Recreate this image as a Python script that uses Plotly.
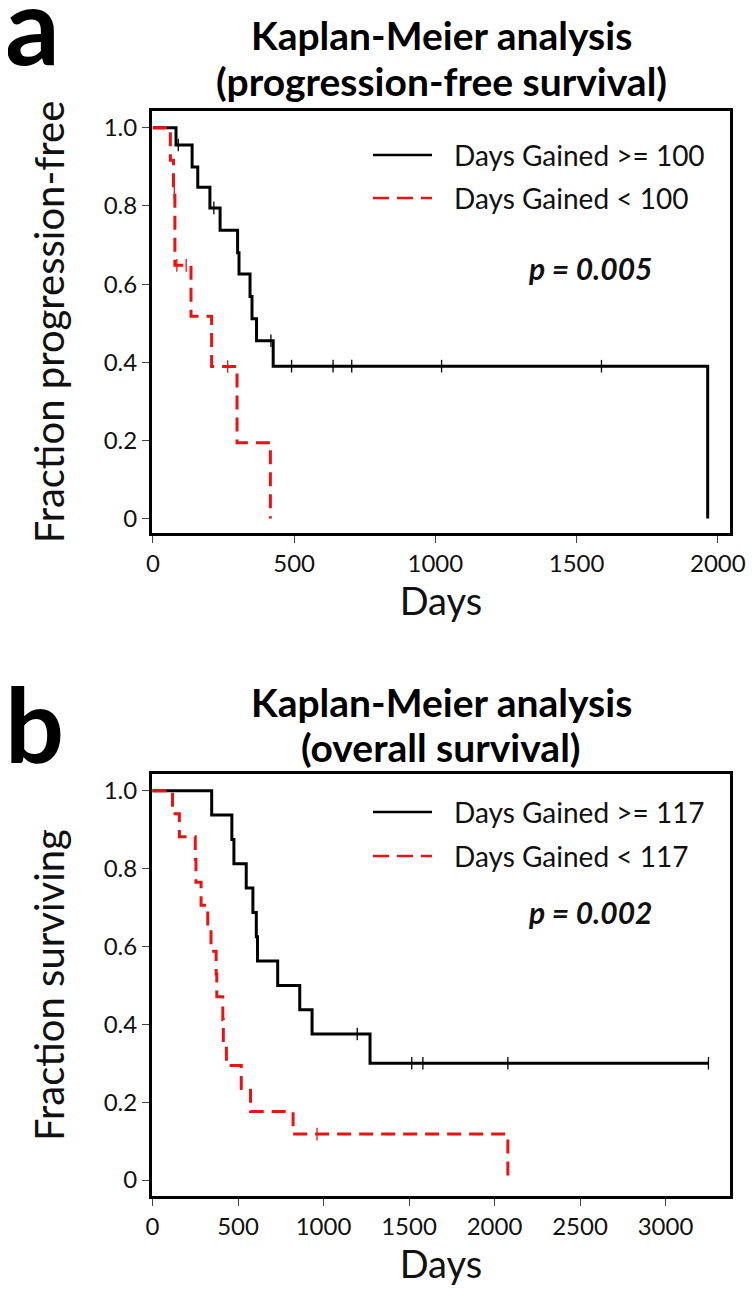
import plotly.graph_objects as go

# ---------------- data ----------------
# Panel a: progression-free survival
a_hi_event_days = [82, 139, 159, 202, 238, 300, 305, 344, 351, 367, 426, 1964]
a_hi_surv = [0.956, 0.90, 0.848, 0.795, 0.738, 0.68, 0.626, 0.568, 0.511, 0.455, 0.39, 0.0]
a_hi_censor_days = [90, 216, 418, 491, 638, 704, 1022, 1588]

a_lo_event_days = [62, 73, 78, 135, 208, 298, 416]
a_lo_surv = [0.917, 0.833, 0.648, 0.518, 0.389, 0.194, 0.0]
a_lo_censor_days = [76, 85, 118, 265]

# Panel b: overall survival
b_hi_event_days = [346, 464, 476, 548, 587, 607, 614, 732, 861, 933, 1272]
b_hi_surv = [0.9375, 0.875, 0.8125, 0.75, 0.6875, 0.625, 0.5625, 0.5, 0.4375, 0.375, 0.30]
b_hi_censor_days = [1197, 1516, 1581, 2078, 3251]

b_lo_event_days = [117, 157, 250, 254, 284, 323, 342, 372, 376, 411, 414, 432, 519, 573, 822, 2078]
b_lo_surv = [0.941, 0.882, 0.824, 0.765, 0.706, 0.647, 0.588, 0.529, 0.471, 0.412, 0.353,
             0.294, 0.235, 0.176, 0.118, 0.0]
b_lo_censor_days = [962]

y_tickvals = [0, 0.2, 0.4, 0.6, 0.8, 1.0]
y_ticktext = ["0", "0.2", "0.4", "0.6", "0.8", "1.0"]
a_x_tickvals = [0, 500, 1000, 1500, 2000]
b_x_tickvals = [0, 500, 1000, 1500, 2000, 2500, 3000]

a_labels = ["Days Gained >= 100", "Days Gained < 100"]
b_labels = ["Days Gained >= 117", "Days Gained < 117"]
a_pvalue = "p = 0.005"
b_pvalue = "p = 0.002"
a_title = ["Kaplan-Meier analysis", "(progression-free survival)"]
b_title = ["Kaplan-Meier analysis", "(overall survival)"]

# ---------------- helpers ----------------
OFF = 8                       # page body margin in the browser
W, H = 755 - OFF, 1296 - OFF  # figure size so that it fits the window
FONT = "Lato"
BLACK = "#000000"
RED = "#ee1111"
DASH = "14px,8px"


def step_xy(event_days, surv, censor_days):
    x = [0] + list(event_days)
    y = [1.0] + list(surv)
    last_c = max(censor_days) if censor_days else 0
    if last_c > x[-1]:
        x.append(last_c)
        y.append(y[-1])
    return x, y


def surv_at(t, event_days, surv):
    s = 1.0
    for d, v in zip(event_days, surv):
        if d <= t:
            s = v
    return s


def px(x):
    return (x - OFF) / W


def py(y):
    return 1 - (y - OFF) / H


fig = go.Figure()


def add_group(ev, sv, cens, color, dash, name, xa, ya):
    x, y = step_xy(ev, sv, cens)
    fig.add_trace(go.Scatter(
        x=x, y=y, mode="lines", line=dict(color=color, width=3, dash=dash, shape="hv"),
        name=name, showlegend=False, xaxis=xa, yaxis=ya, hoverinfo="skip"))
    fig.add_trace(go.Scatter(
        x=cens, y=[surv_at(t, ev, sv) for t in cens], mode="markers",
        marker=dict(symbol="line-ns", size=9, line=dict(color=color, width=1.3)),
        showlegend=False, xaxis=xa, yaxis=ya, hoverinfo="skip"))


add_group(a_hi_event_days, a_hi_surv, a_hi_censor_days, BLACK, "solid", a_labels[0], "x", "y")
add_group(a_lo_event_days, a_lo_surv, a_lo_censor_days, RED, DASH, a_labels[1], "x", "y")
add_group(b_hi_event_days, b_hi_surv, b_hi_censor_days, BLACK, "solid", b_labels[0], "x2", "y2")
add_group(b_lo_event_days, b_lo_surv, b_lo_censor_days, RED, DASH, b_labels[1], "x2", "y2")

axis_common = dict(showline=True, mirror=True, linewidth=3, linecolor="black",
                   ticks="outside", ticklen=7, tickwidth=1, tickcolor="#444",
                   showgrid=False, zeroline=False, automargin=False,
                   tickfont=dict(family=FONT, size=24, color="#111"))
title_font = dict(family=FONT, size=40, color="#111")
xtitle_font = dict(family=FONT, size=38, color="#111")

xdom = [px(152), px(730)]
fig.update_layout(
    width=W, height=H,
    margin=dict(l=0, r=0, t=0, b=0, autoexpand=False),
    paper_bgcolor="white", plot_bgcolor="white",
    showlegend=False,
    xaxis=dict(domain=xdom, range=[-3, 2043], tickvals=a_x_tickvals, anchor="y",
               title=dict(text="Days", font=xtitle_font, standoff=11),
               **axis_common),
    yaxis=dict(domain=[py(533), py(111)], range=[-0.037, 1.043], tickvals=y_tickvals,
               ticktext=y_ticktext, anchor="x",
               title=dict(text="Fraction progression-free", font=title_font, standoff=27),
               **axis_common),
    xaxis2=dict(domain=xdom, range=[-3, 3377], tickvals=b_x_tickvals, anchor="y2",
                title=dict(text="Days", font=xtitle_font, standoff=9),
                **axis_common),
    yaxis2=dict(domain=[py(1196), py(774)], range=[-0.041, 1.043], tickvals=y_tickvals,
                ticktext=y_ticktext, anchor="x2",
                title=dict(text="Fraction surviving", font=title_font, standoff=27),
                **axis_common),
)

annotations = []
shapes = []

# panel letters
annotations.append(dict(text="<b>a</b>", x=px(3), y=py(23), xref="paper", yref="paper",
                        xanchor="left", yanchor="middle", showarrow=False,
                        font=dict(family=FONT, size=108, color="black")))
annotations.append(dict(text="<b>b</b>", x=px(3), y=py(722), xref="paper", yref="paper",
                        xanchor="left", yanchor="middle", showarrow=False,
                        font=dict(family=FONT, size=104, color="black")))

# panel titles (one annotation per line)
for lines, y1, y2 in [(a_title, 35, 81), (b_title, 702, 747)]:
    for txt, yc in [(lines[0], y1), (lines[1], y2)]:
        annotations.append(dict(text="<b>" + txt + "</b>", x=px(441), y=py(yc), xref="paper",
                                yref="paper", xanchor="center", yanchor="middle",
                                showarrow=False,
                                font=dict(family=FONT, size=39, color="black")))

# legends and p-values
for labels, y1, y2, pv, ypv in [(a_labels, 155, 198, a_pvalue, 268),
                                (b_labels, 812, 856, b_pvalue, 912)]:
    for lab, yy, col, dash in [(labels[0], y1, BLACK, "solid"),
                               (labels[1], y2, RED, "16px,8px")]:
        shapes.append(dict(type="line", xref="paper", yref="paper",
                           x0=px(373), x1=px(432), y0=py(yy), y1=py(yy),
                           line=dict(color=col, width=2.5, dash=dash)))
        annotations.append(dict(text=lab, x=px(452), y=py(yy), xref="paper", yref="paper",
                                xanchor="left", yanchor="middle", showarrow=False,
                                font=dict(family=FONT, size=28, color="#111")))
    annotations.append(dict(text="<b><i>" + pv + "</i></b>", x=px(590), y=py(ypv),
                            xref="paper", yref="paper", xanchor="center", yanchor="middle",
                            showarrow=False, font=dict(family=FONT, size=30, color="#111")))

fig.update_layout(annotations=annotations, shapes=shapes)
fig.write_html("out.html")
